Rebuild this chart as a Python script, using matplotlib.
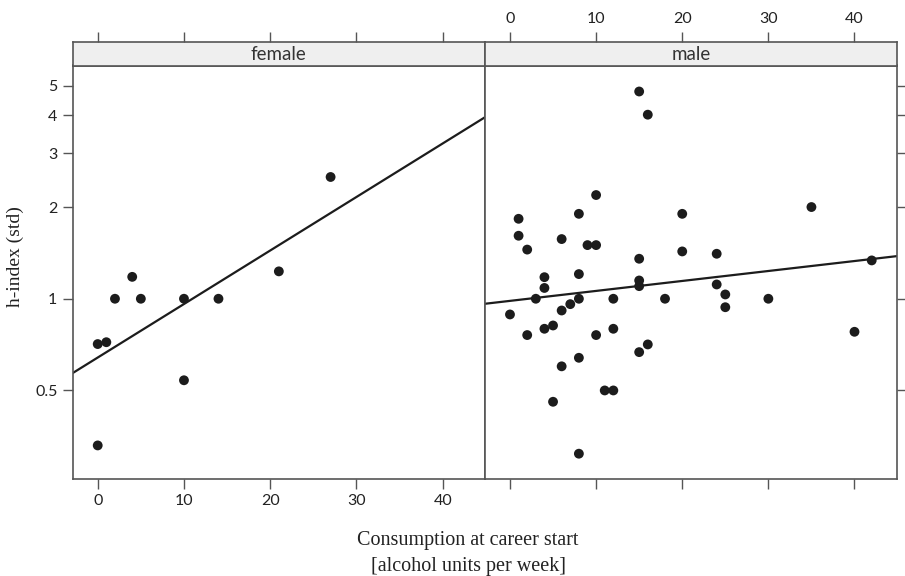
import numpy as np
import matplotlib
matplotlib.use("Agg")
import matplotlib.pyplot as plt
from matplotlib.ticker import FixedLocator, NullLocator, NullFormatter

# female panel
female_x = [0, 1, 2, 4, 5, 10, 10, 14, 21, 27, 0]
female_y = [0.71, 0.72, 1.0, 1.18, 1.0, 1.0, 0.54, 1.0, 1.23, 2.51, 0.33]

# male panel
male_x = [15, 16, 10, 35, 8, 20, 1, 1, 6, 2, 9, 10, 20, 24, 15, 42,
          4, 8, 4, 15, 15, 24, 25, 3, 8, 12, 18, 30, 7, 6, 25, 0,
          4, 5, 2, 10, 12, 40, 16, 15, 8, 6, 11, 12, 5, 8]
male_y = [4.79, 4.02, 2.19, 2.0, 1.90, 1.90, 1.83, 1.61, 1.57, 1.45, 1.50, 1.50,
          1.43, 1.405, 1.353, 1.336, 1.177, 1.205, 1.085, 1.148, 1.10, 1.114, 1.033,
          1.0, 1.0, 1.0, 1.0, 1.0, 0.96, 0.915, 0.938, 0.888, 0.797, 0.817, 0.76,
          0.76, 0.797, 0.779, 0.708, 0.668, 0.64, 0.60, 0.50, 0.50, 0.459, 0.31]

# fitted lines on log10 scale: (intercept at x=0, slope per unit)
female_fit = (-0.193, 0.01757)
male_fit = (-0.0070, 0.00327)

panels = ["female", "male"]
xticks = [0, 10, 20, 30, 40]
yticks = [0.5, 1, 2, 3, 4, 5]
ytick_labels = ["0.5", "1", "2", "3", "4", "5"]

xlim = (-2.9, 44.9)
ylim = (0.257, 5.83)

sans = "Lato"
serif = "Liberation Serif"
edge = "#555555"

fig = plt.figure(figsize=(9.05, 5.76), dpi=100)

W, H = 905.0, 576.0
left_edges = [72.7, 485.0]
right_edges = [485.0, 896.7]
top, bottom = 65.5, 478.5
strip_top = 41.5

data = [(female_x, female_y, female_fit), (male_x, male_y, male_fit)]

for i, name in enumerate(panels):
    x0 = left_edges[i] / W
    w = (right_edges[i] - left_edges[i]) / W
    ax = fig.add_axes([x0, 1 - bottom / H, w, (bottom - top) / H])
    sx = fig.add_axes([x0, 1 - top / H, w, (top - strip_top) / H])

    xs, ys, fit = data[i]
    ax.scatter(xs, ys, s=50, color="#1c1c1c", edgecolors="none", zorder=3)
    lx = np.array(xlim)
    ax.plot(lx, 10 ** (fit[0] + fit[1] * lx), color="#1c1c1c", lw=1.6, zorder=2)

    ax.set_yscale("log")
    ax.set_xlim(*xlim)
    ax.set_ylim(*ylim)
    ax.yaxis.set_major_locator(FixedLocator(yticks))
    ax.yaxis.set_minor_locator(NullLocator())
    ax.yaxis.set_minor_formatter(NullFormatter())
    ax.set_xticks(xticks)

    for sp in ax.spines.values():
        sp.set_color(edge)
        sp.set_linewidth(1.2)
    ax.tick_params(direction="out", length=7, width=1.0, color=edge,
                   labelsize=11.5, pad=4, labelcolor="#222222")
    if i == 0:
        ax.set_yticklabels(ytick_labels, fontfamily=sans)
        ax.tick_params(axis="x", labelbottom=True)
        for lab in ax.get_xticklabels():
            lab.set_fontfamily(sans)
    else:
        ax.tick_params(axis="y", left=False, labelleft=False, right=True, labelright=False)
        ax.tick_params(axis="x", labelbottom=False)

    # strip
    sx.set_facecolor("#efefef")
    sx.set_xlim(*xlim)
    sx.set_ylim(0, 1)
    sx.set_yticks([])
    sx.set_xticks(xticks)
    for sp in sx.spines.values():
        sp.set_color(edge)
        sp.set_linewidth(1.2)
    sx.tick_params(axis="x", bottom=False, labelbottom=False, top=True,
                   labeltop=(i == 1), direction="out", length=7, width=1.0,
                   color=edge, labelsize=11.5, pad=4, labelcolor="#222222")
    for lab in sx.get_xticklabels():
        lab.set_fontfamily(sans)
    sx.text(0.5, 0.45, name, transform=sx.transAxes, ha="center", va="center",
            fontsize=13.5, fontfamily=sans, color="#333333")

fig.text(15 / W, 1 - 257 / H, "h-index (std)", rotation=90, ha="center", va="center",
         fontsize=14, fontfamily=serif, color="#222222")
fig.text(468 / W, 1 - 541 / H, "Consumption at career start", ha="center", va="center",
         fontsize=14.5, fontfamily=serif, color="#222222")
fig.text(468 / W, 1 - 566 / H, "[alcohol units per week]", ha="center", va="center",
         fontsize=14.5, fontfamily=serif, color="#222222")

fig.savefig("out.png", dpi=100)
